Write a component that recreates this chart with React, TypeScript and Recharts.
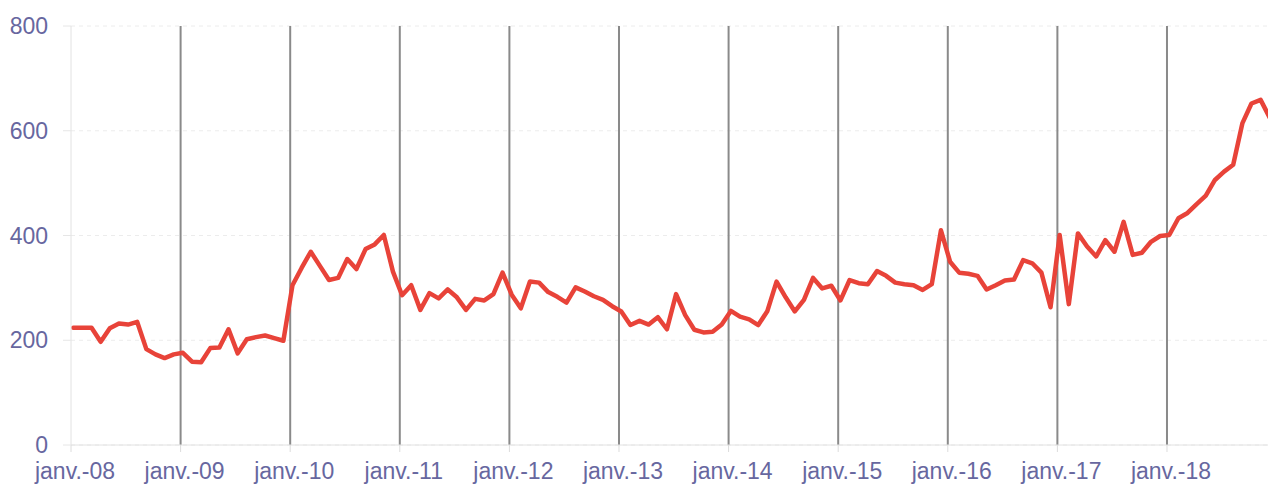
import React from "react";
import { LineChart, Line, XAxis, YAxis, CartesianGrid, ReferenceLine } from "recharts";

// monthly readings, janv. 2008 -> déc. 2018
const values = [
  224, 224, 224, 197, 223, 232, 230, 235, 183, 173, 166, 173,
  176, 159, 158, 185, 186, 221, 175, 202, 206, 209, 204, 199,
  305, 338, 369, 342, 315, 319, 355, 336, 374, 383, 401, 331,
  286, 305, 258, 290, 280, 297, 282, 258, 279, 276, 288, 329,
  287, 261, 312, 310, 292, 283, 272, 301, 293, 284, 277, 265,
  255, 229, 237, 230, 244, 221, 288, 248, 220, 215, 216, 230,
  256, 245, 240, 229, 256, 312, 282, 255, 277, 319, 299, 304,
  276, 315, 309, 307, 332, 323, 310, 307, 305, 296, 307, 410,
  350, 329, 327, 323, 297, 305, 314, 316, 353, 347, 329, 263,
  401, 269, 404, 379, 360, 391, 369, 426, 363, 367, 388, 399,
  401, 433, 443, 460, 476, 506, 522, 535, 614, 652, 659, 625,
];

const yearLabels = [
  "janv.-08", "janv.-09", "janv.-10", "janv.-11", "janv.-12", "janv.-13",
  "janv.-14", "janv.-15", "janv.-16", "janv.-17", "janv.-18",
];
const yTicks = [0, 200, 400, 600, 800];

const data = values.map((v, i) => ({ t: i + 0.25, v }));
const yearTicks = yearLabels.map((_, i) => i * 12);

const textColor = "#67679f";
const font = "'Liberation Sans', Arial, sans-serif";

const XTick = ({ x, y, payload }: any) => (
  <text x={x + 4} y={y} dy="0.71em" textAnchor="middle" fill={textColor} fontSize={23} fontFamily={font}>
    {yearLabels[Math.round(payload.value / 12)]}
  </text>
);

export default function App() {
  return (
    <div style={{ position: "fixed", left: 0, top: 0, width: 1268, height: 485, overflow: "hidden", background: "#fff" }}>
      <LineChart width={1268} height={485} data={data} margin={{ top: 26, right: 0, bottom: 0, left: 0 }}>
        <CartesianGrid vertical={false} strokeDasharray="4 4" stroke="#ececec" />
        <XAxis
          dataKey="t"
          type="number"
          domain={[0, 131.06]}
          allowDataOverflow
          ticks={yearTicks}
          interval={0}
          height={40}
          tickSize={7}
          tickMargin={11}
          axisLine={{ stroke: "#e2e2e2" }}
          tickLine={{ stroke: "#dcdcdc" }}
          tick={<XTick />}
        />
        <YAxis
          domain={[0, 800]}
          ticks={yTicks}
          width={71}
          tickSize={8}
          tickMargin={15}
          axisLine={{ stroke: "#e2e2e2" }}
          tickLine={{ stroke: "#e6e6e6" }}
          tick={{ fill: textColor, fontSize: 23, fontFamily: font }}
        />
        {yearTicks.slice(1).map((m) => (
          <ReferenceLine key={m} x={m} stroke="#8a8a8a" strokeWidth={2} />
        ))}
        <Line
          dataKey="v"
          stroke="#e84339"
          strokeWidth={4.5}
          dot={false}
          strokeLinejoin="round"
          strokeLinecap="round"
          isAnimationActive={false}
        />
      </LineChart>
    </div>
  );
}
